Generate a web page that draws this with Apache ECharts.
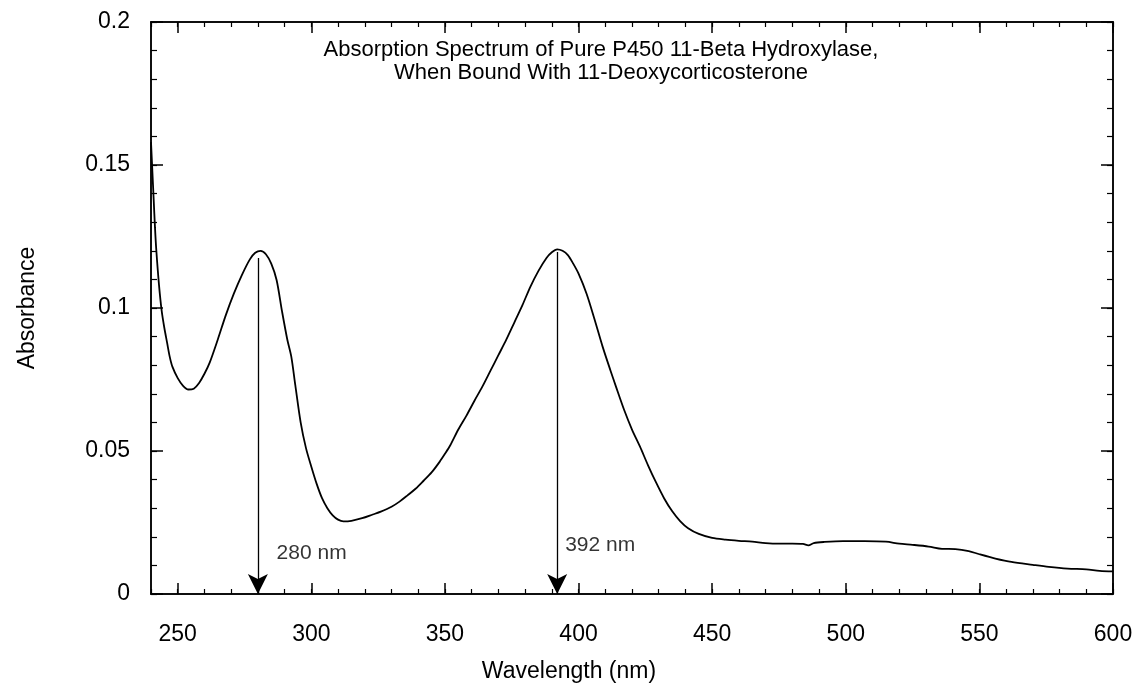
<!DOCTYPE html>
<html>
<head>
<meta charset="utf-8">
<script src="https://cdn.jsdelivr.net/npm/echarts@6/dist/echarts.min.js"></script>
<style>html,body{margin:0;padding:0;background:#fff}#c{width:1136px;height:688px}</style>
</head>
<body>
<div id="c"></div>
<script>
var wavelengths = [240,240.5,241,241.5,242,243,244,245,246,247,248,250,252,254,256,258,260,262,265,268,271,274,277,279,281,283,285,287,289,291,292.5,294,296,298,300,302,304,306,308,310,312,315,319,323,326,330,333,336,339,342,345,348,350,352,355,358,361,364,367,370,373,376,379,382,385,388,390,392,394,396,398,400,403,406,409,412,414,417,420,423,426,429,432,435,438,441,445,450,455,460,465,470,475,480,484,486,488,492,499,507,515,520,525,531,536,541,546,550,556,562,570,576,583,590,595,600];
var absorbance = [0.158,0.148,0.138,0.128,0.120,0.108,0.099,0.093,0.088,0.083,0.0795,0.0755,0.0728,0.0715,0.0718,0.0738,0.0770,0.0810,0.0890,0.0975,0.1050,0.1115,0.1170,0.1193,0.1200,0.1188,0.1155,0.1098,0.0990,0.0890,0.0830,0.0730,0.0600,0.0510,0.0445,0.0385,0.0335,0.0300,0.0275,0.0260,0.0254,0.0256,0.0265,0.0278,0.0288,0.0305,0.0323,0.0345,0.0368,0.0396,0.0425,0.0462,0.0490,0.0520,0.0575,0.0623,0.0675,0.0725,0.0780,0.0835,0.0890,0.0950,0.1010,0.1075,0.1130,0.1175,0.1195,0.1205,0.1200,0.1185,0.1155,0.1120,0.1050,0.0960,0.0865,0.0780,0.0725,0.0645,0.0575,0.0515,0.0450,0.0390,0.0335,0.0290,0.0255,0.0230,0.0210,0.0196,0.0190,0.0186,0.0183,0.0178,0.0176,0.0176,0.0175,0.0170,0.0178,0.0182,0.0185,0.0185,0.0183,0.0176,0.0172,0.0166,0.0158,0.0157,0.0150,0.0139,0.0124,0.0112,0.0102,0.0095,0.0089,0.0086,0.0081,0.0079];
var xTickLabels = [250,300,350,400,450,500,550,600];
var yTickLabels = [0,0.05,0.1,0.15,0.2];
var peakWavelengths = [280,392];
var peakTops = [0.1175,0.1196];
var peakLabels = ['280 nm','392 nm'];
var peakLabelX = [287,395];
var peakLabelY = [0.0143,0.0171];
var titleLines = ['Absorption Spectrum of Pure P450 11-Beta Hydroxylase,','When Bound With 11-Deoxycorticosterone'];

var FONT = '"Liberation Sans", Arial, Helvetica, sans-serif';
var lineData = wavelengths.map(function(w,i){return [w,absorbance[i]];});
var fmtY = function(v){var r=Math.round(v*100)/100; return String(r);};

function xAx(pos, major, labels){
  return {
    type:'value', min:240, max:600, interval:10, position:pos,
    axisLine:{show:true, onZero:false, lineStyle:{color:'#000', width:1.5}},
    axisTick:major ? {show:true, inside:true, length:11, customValues:xTickLabels, lineStyle:{color:'#000', width:1.5}}
                   : {show:true, inside:true, length:5, lineStyle:{color:'#000', width:1.2}},
    axisLabel: labels ? {show:true, customValues:xTickLabels, color:'#000', fontSize:23, fontFamily:FONT, margin:29} : {show:false},
    splitLine:{show:false}
  };
}
function yAx(pos, major, labels){
  return {
    type:'value', min:0, max:0.2, interval:0.01, position:pos,
    axisLine:{show:true, onZero:false, lineStyle:{color:'#000', width:1.5}},
    axisTick:major ? {show:true, inside:true, length:12, customValues:yTickLabels, lineStyle:{color:'#000', width:1.5}}
                   : {show:true, inside:true, length:6, lineStyle:{color:'#000', width:1.2}},
    axisLabel: labels ? {show:true, customValues:yTickLabels, formatter:fmtY, color:'#000', fontSize:23, fontFamily:FONT, margin:21} : {show:false},
    splitLine:{show:false}
  };
}

var xAxes = [xAx('bottom',false,true), xAx('bottom',true,false), xAx('top',false,false), xAx('top',true,false)];
var yAxes = [yAx('left',false,true), yAx('left',true,false), yAx('right',false,false), yAx('right',true,false)];
xAxes[0].name = 'Wavelength (nm)';
xAxes[0].nameLocation = 'middle';
xAxes[0].nameGap = 66;
xAxes[0].nameTextStyle = {color:'#000', fontSize:23, fontFamily:FONT, padding:[0,126,0,0]};
yAxes[0].name = 'Absorbance';
yAxes[0].nameLocation = 'middle';
yAxes[0].nameGap = 112;
yAxes[0].nameTextStyle = {color:'#000', fontSize:23, fontFamily:FONT};

var chart = echarts.init(document.getElementById('c'), null, {renderer:'canvas'});
chart.setOption({
  backgroundColor:'#fff',
  animation:false,
  title:{text:titleLines.join('\n'), left:596, top:33, textAlign:'center',
    textStyle:{color:'#000', fontSize:22, fontWeight:'normal', fontFamily:FONT, lineHeight:23}},
  grid:{left:151, right:23, top:22, bottom:94, containLabel:false},
  xAxis:xAxes,
  yAxis:yAxes,
  series:[
    {type:'line', data:lineData, smooth:0.3, showSymbol:false, symbol:'none',
     lineStyle:{color:'#000', width:1.8},
     markLine:{silent:true, symbol:['none','arrow'], symbolSize:[15,20], animation:false,
       lineStyle:{color:'#000', width:1.3, type:'solid'}, label:{show:false},
       data: peakWavelengths.map(function(w,i){return [{coord:[w,peakTops[i]]},{coord:[w,0]}];})}
    },
    {type:'scatter', symbolSize:0, data: peakLabels.map(function(t,i){return [peakLabelX[i], peakLabelY[i], t];}),
     label:{show:true, position:'right', distance:0, formatter:function(p){return p.data[2];}, color:'#000', fontSize:21, fontFamily:FONT}}
  ]
});
</script>
</body>
</html>
